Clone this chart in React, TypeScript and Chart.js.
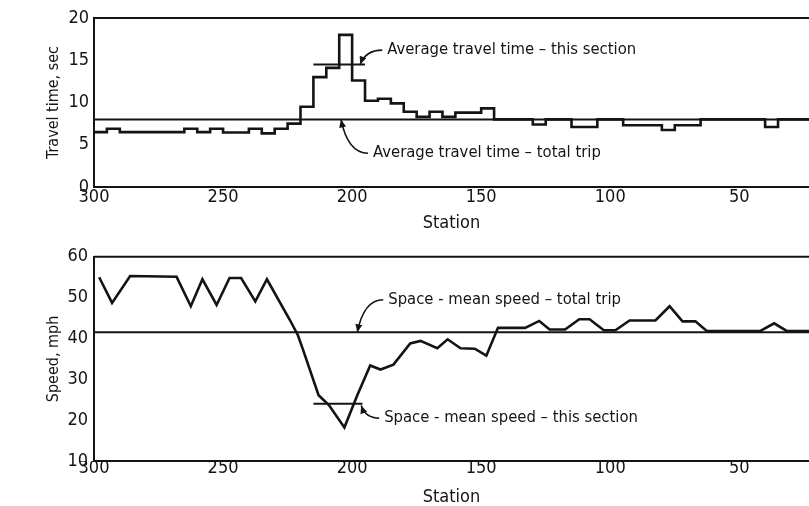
import React, { useEffect, useRef } from "react";
import { Chart, registerables } from "chart.js";

Chart.register(...registerables);

// ---------- data ----------
const stationMin = 23;
const stationMax = 300;
const stationTicks = [300, 250, 200, 150, 100, 50];

const travelTicks = [0, 5, 10, 15, 20];
// stepped travel time: each value holds from its station to the next one
const travelStations = [300, 295, 290, 265, 260, 255, 250, 240, 235, 230, 225, 220, 215, 210, 205, 200, 195, 190, 185, 180, 175, 170, 165, 160, 150, 145, 130, 125, 115, 105, 95, 80, 75, 65, 40, 35, 23];
const travelTimes = [6.5, 6.9, 6.5, 6.9, 6.5, 6.9, 6.45, 6.9, 6.35, 6.9, 7.5, 9.5, 13.0, 14.1, 18.0, 12.6, 10.2, 10.45, 9.9, 8.9, 8.3, 8.9, 8.3, 8.8, 9.3, 8.0, 7.4, 8.0, 7.1, 8.0, 7.3, 6.75, 7.3, 8.0, 7.1, 8.0, 8.0];
const avgTravelTotal = 8.0;
const avgTravelSectionStations = [215, 195];
const avgTravelSection = 14.5;

const speedTicks = [10, 20, 30, 40, 50, 60];
const speedStations = [298, 293, 286, 268, 262.5, 258, 252.5, 247.5, 243, 237.5, 233, 224, 221, 219, 213, 209, 203, 198, 193, 189, 184, 177.5, 173.5, 167, 163, 158, 152.5, 148, 143.5, 133, 127.5, 123.5, 117.5, 112, 108, 102.5, 98, 92.5, 82.5, 77, 72, 67, 62.5, 42, 36.5, 31.5, 23];
const speeds = [55, 48.7, 55.3, 55.1, 47.9, 54.5, 48.2, 54.8, 54.8, 49.1, 54.5, 44.4, 40.8, 37.2, 26.1, 23.7, 18.2, 26.1, 33.4, 32.4, 33.6, 38.8, 39.4, 37.6, 39.8, 37.6, 37.5, 35.8, 42.6, 42.6, 44.3, 42.2, 42.2, 44.7, 44.7, 42.0, 42.0, 44.4, 44.4, 47.9, 44.2, 44.2, 41.8, 41.8, 43.7, 41.8, 41.8];
const avgSpeedTotal = 41.5;
const avgSpeedSectionStations = [215, 196];
const avgSpeedSection = 24;

type Note = { text: string; textX: number; textY: number; tipX: number; tipY: number };
const travelNotes: Note[] = [
  { text: "Average travel time \u2013 this section", textX: 186.4, textY: 16.2, tipX: 196.9, tipY: 14.5 },
  { text: "Average travel time \u2013 total trip", textX: 191.9, textY: 4.0, tipX: 204.3, tipY: 8.0 },
];
const speedNotes: Note[] = [
  { text: "Space - mean speed \u2013 total trip", textX: 186, textY: 49.5, tipX: 198, tipY: 41.5 },
  { text: "Space - mean speed \u2013 this section", textX: 187.6, textY: 20.5, tipX: 196.5, tipY: 23.6 },
];

// ---------- style ----------
const INK = "#141414";
const FONT = "'DejaVu Sans Condensed', 'DejaVu Sans', sans-serif";

function notesPlugin(notes: Note[]) {
  return {
    id: "notes",
    afterDatasetsDraw(chart: any) {
      const { ctx, scales } = chart;
      const x = scales.x, y = scales.y;
      ctx.save();
      ctx.font = `16.5px ${FONT}`;
      ctx.fillStyle = INK;
      ctx.strokeStyle = INK;
      ctx.lineWidth = 1.6;
      ctx.textBaseline = "middle";
      ctx.textAlign = "left";
      for (const n of notes) {
        const tx = x.getPixelForValue(n.textX), ty = y.getPixelForValue(n.textY);
        const px = x.getPixelForValue(n.tipX), py = y.getPixelForValue(n.tipY);
        ctx.fillText(n.text, tx, ty);
        const sx = tx - 5, sy = ty;
        const cx = px + (sx - px) * 0.25, cy = sy;
        ctx.beginPath();
        ctx.moveTo(sx, sy);
        ctx.quadraticCurveTo(cx, cy, px, py);
        ctx.stroke();
        const ang = Math.atan2(py - cy, px - cx);
        const L = 8, W = 3.5;
        ctx.beginPath();
        ctx.moveTo(px, py);
        ctx.lineTo(px - L * Math.cos(ang) + W * Math.sin(ang), py - L * Math.sin(ang) - W * Math.cos(ang));
        ctx.lineTo(px - L * Math.cos(ang) - W * Math.sin(ang), py - L * Math.sin(ang) + W * Math.cos(ang));
        ctx.closePath();
        ctx.fill();
      }
      ctx.restore();
    },
  };
}

const framePlugin = {
  id: "frameTop",
  afterDraw(chart: any) {
    const { ctx, chartArea } = chart;
    ctx.save();
    ctx.strokeStyle = INK;
    ctx.lineWidth = 2;
    ctx.beginPath();
    ctx.moveTo(chartArea.left, chartArea.top);
    ctx.lineTo(chartArea.right, chartArea.top);
    ctx.stroke();
    ctx.restore();
  },
};

function makeOptions(p: {
  yMin: number; yMax: number; yTicks: number[]; yTitle: string;
  padTop: number; xHeight: number; xLabelPad: number; xTitlePadBottom: number; yLabelPad: number;
}) {
  return {
    animation: false,
    responsive: false,
    maintainAspectRatio: false,
    layout: { padding: { top: p.padTop, left: 0, right: 0, bottom: 0 } },
    plugins: { legend: { display: false }, tooltip: { enabled: false } },
    scales: {
      x: {
        type: "linear",
        min: stationMin,
        max: stationMax,
        reverse: true,
        afterBuildTicks: (s: any) => { s.ticks = stationTicks.map((v) => ({ value: v })); },
        afterFit: (s: any) => { s.height = p.xHeight; },
        ticks: { color: INK, font: { family: FONT, size: 18 }, padding: p.xLabelPad, maxRotation: 0, autoSkip: false },
        grid: { display: false, drawTicks: false },
        border: { display: true, color: INK, width: 2 },
        title: { display: true, text: "Station", color: INK, font: { family: FONT, size: 18 }, padding: { top: 0, bottom: p.xTitlePadBottom } },
      },
      y: {
        type: "linear",
        min: p.yMin,
        max: p.yMax,
        afterBuildTicks: (s: any) => { s.ticks = p.yTicks.map((v) => ({ value: v })); },
        afterFit: (s: any) => { s.width = 94; },
        ticks: { color: INK, font: { family: FONT, size: 18 }, padding: p.yLabelPad },
        grid: { display: false, drawTicks: false },
        border: { display: true, color: INK, width: 2 },
        title: { display: true, text: p.yTitle, color: INK, font: { family: FONT, size: 16 }, padding: { top: 44, bottom: 0 } },
      },
    },
  };
}

const lineStyle = { borderColor: INK, borderWidth: 2.6, pointRadius: 0, fill: false, tension: 0 };

export default function App() {
  const topRef = useRef<HTMLCanvasElement>(null);
  const botRef = useRef<HTMLCanvasElement>(null);

  useEffect(() => {
    const top = new Chart(topRef.current as HTMLCanvasElement, {
      type: "line",
      data: {
        datasets: [
          { ...lineStyle, stepped: "before", data: travelStations.map((s, i) => ({ x: s, y: travelTimes[i] })) },
          { ...lineStyle, borderWidth: 2, data: [{ x: stationMax, y: avgTravelTotal }, { x: stationMin, y: avgTravelTotal }] },
          { ...lineStyle, borderWidth: 2, data: avgTravelSectionStations.map((s) => ({ x: s, y: avgTravelSection })) },
        ],
      } as any,
      options: makeOptions({
        yMin: 0, yMax: 20, yTicks: travelTicks, yTitle: "Travel time, sec",
        padTop: 18, xHeight: 53, xLabelPad: 0, xTitlePadBottom: 6, yLabelPad: 5,
      }) as any,
      plugins: [framePlugin, notesPlugin(travelNotes)] as any,
    });
    const bot = new Chart(botRef.current as HTMLCanvasElement, {
      type: "line",
      data: {
        datasets: [
          { ...lineStyle, data: speedStations.map((s, i) => ({ x: s, y: speeds[i] })) },
          { ...lineStyle, borderWidth: 2, data: [{ x: stationMax, y: avgSpeedTotal }, { x: stationMin, y: avgSpeedTotal }] },
          { ...lineStyle, borderWidth: 2, data: avgSpeedSectionStations.map((s) => ({ x: s, y: avgSpeedSection })) },
        ],
      } as any,
      options: makeOptions({
        yMin: 10, yMax: 60, yTicks: speedTicks, yTitle: "Speed, mph",
        padTop: 11, xHeight: 45, xLabelPad: -3, xTitlePadBottom: -2, yLabelPad: 6,
      }) as any,
      plugins: [framePlugin, notesPlugin(speedNotes)] as any,
    });
    return () => { top.destroy(); bot.destroy(); };
  }, []);

  return (
    <div style={{ position: "absolute", left: 0, top: 0, width: 809, height: 506, background: "#fff", overflow: "hidden" }}>
      <canvas ref={topRef} width={809} height={240} style={{ position: "absolute", left: 0, top: 0, width: 809, height: 240 }} />
      <canvas ref={botRef} width={809} height={266} style={{ position: "absolute", left: 0, top: 240, width: 809, height: 266 }} />
    </div>
  );
}
